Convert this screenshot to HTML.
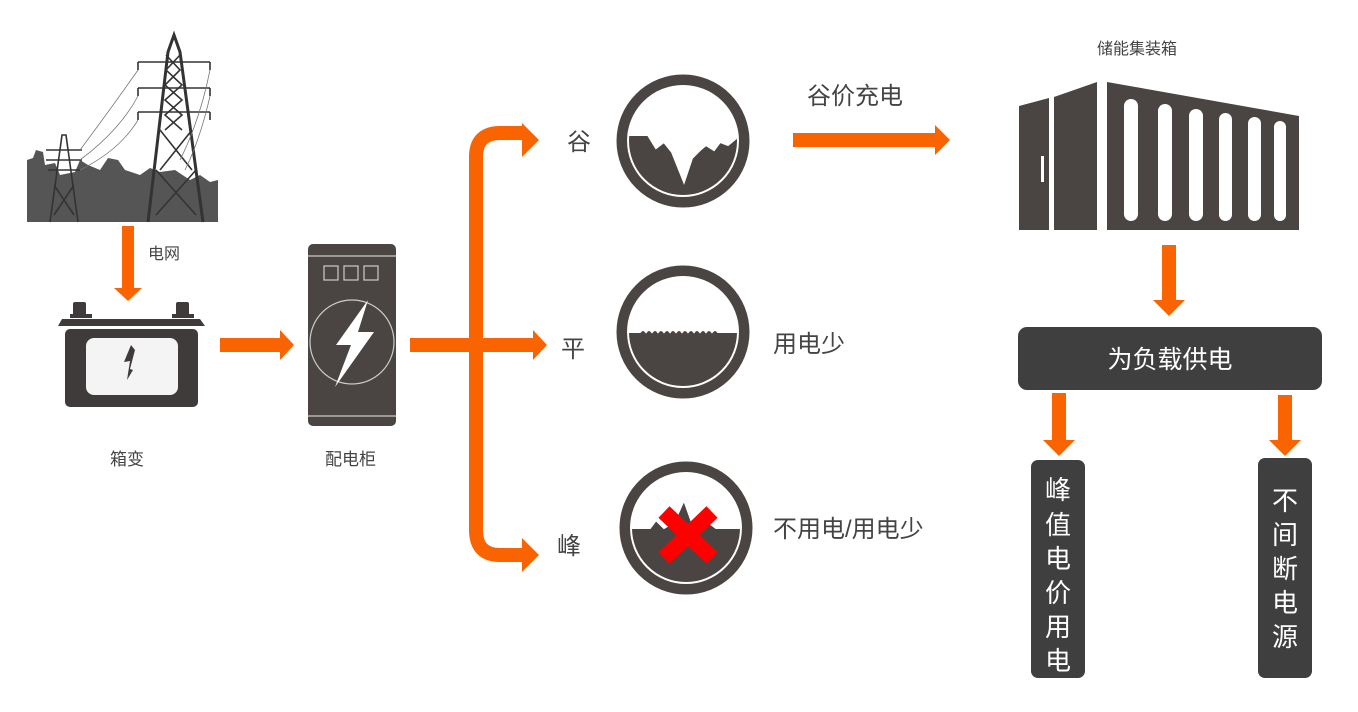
<!DOCTYPE html>
<html><head><meta charset="utf-8"><style>
html,body{margin:0;padding:0;background:#fff;}
svg{display:block;}
text{font-family:"Liberation Sans","Noto Sans CJK SC",sans-serif;}
</style></head><body>
<svg width="1358" height="712" viewBox="0 0 1358 712" xmlns="http://www.w3.org/2000/svg">
<defs>
<clipPath id="c1"><circle cx="683" cy="141" r="56"/></clipPath>
<clipPath id="c2"><circle cx="683" cy="332" r="56"/></clipPath>
<clipPath id="c3"><circle cx="686" cy="528" r="56"/></clipPath>
</defs>
<!-- tower scene -->
<g>
<path d="M27 222 L27 160 L33 158 L36 150 L43 152 L45 165 L55 163 L60 175 L75 172 L80 160 L88 165 L100 170 L108 158 L118 160 L125 170 L140 175 L150 168 L160 172 L175 170 L190 180 L200 175 L210 182 L218 180 L218 222 Z" fill="#555"/>
<g stroke="#333" fill="none" stroke-width="3">
<path d="M148 222 L168 52 L174 35 L180 52 L203 222"/>
</g>
<g stroke="#333" fill="none" stroke-width="1.6">
<path d="M138 62 L210 62 M138 88 L210 88 M138 112 L210 112"/>
<path d="M138 62 V70 M210 62 V70 M138 88 V96 M210 88 V96 M138 112 V120 M210 112 V120"/>
<path d="M156 215 L196 170 M196 215 L156 170 M160 170 L192 130 M192 170 L160 130"/>
<path d="M165 130 L182 115 L165 100 L182 85 L166 70 L180 55 M182 130 L165 115 L182 100 L165 85 L180 70 L166 55"/>
<path d="M50 222 L62 135 L66 135 L78 222"/>
<path d="M46 150 L82 150 M46 160 L82 160 M48 170 L80 170"/>
<path d="M54 215 L74 185 M74 215 L54 185"/>
</g>
<g stroke="#777" fill="none" stroke-width="0.8">
<path d="M80 150 Q110 110 138 70"/><path d="M80 160 Q120 130 138 96"/><path d="M80 170 Q120 150 138 120"/>
<path d="M210 70 Q200 120 180 160"/><path d="M210 96 Q200 140 185 170"/>
</g>
</g>
<!-- arrow down from grid -->
<path d="M122 226 H134 V288 H142 L128 301 L114 288 H122 Z" fill="#f96300"/>
<text x="148" y="259" font-size="16" fill="#444">电网</text>
<!-- battery -->
<g fill="#3f3b3a">
<rect x="73" y="302" width="13" height="14" rx="2"/><rect x="176" y="302" width="13" height="14" rx="2"/>
<rect x="70" y="314" width="22" height="4"/><rect x="172" y="314" width="22" height="4"/>
<path d="M62 319 H200 L205 326 H58 Z"/>
<rect x="65" y="329" width="133" height="78" rx="5"/>
</g>
<rect x="86" y="338" width="92" height="57" rx="8" fill="#f4f4f4"/>
<path d="M131 345 L124 362 L130 361 L127 380 L133 370 L130 369 L135 350 Z" fill="#3f3b3a"/>
<text x="110" y="465" font-size="17" fill="#444">箱变</text>
<!-- arrow -->
<path d="M220 338 H280 V330 L294 345 L280 360 V352 H220 Z" fill="#f96300"/>
<!-- cabinet -->
<rect x="308" y="244" width="88" height="182" rx="5" fill="#4a4543"/>
<g stroke="#ccc" fill="none" stroke-width="1.2">
<path d="M308 256 H396 M308 416 H396"/>
<rect x="324" y="266" width="14" height="14"/><rect x="344" y="266" width="14" height="14"/><rect x="364" y="266" width="14" height="14"/>
<circle cx="352" cy="342" r="42"/>
</g>
<path d="M368 300 L336 345 L351 345 L335 387 L374 332 L358 332 Z" fill="#fff"/>
<text x="325" y="465" font-size="17" fill="#444">配电柜</text>
<!-- branching arrows -->
<path d="M410 338 H533 V330 L547 345 L533 360 V352 H410 Z" fill="#f96300"/>
<path d="M524 133 H500 Q476 133 476 157 V530 Q476 555 500 555 H524" fill="none" stroke="#f96300" stroke-width="14"/>
<path d="M522 123 L539 140 L522 157 Z" fill="#f96300"/>
<path d="M522 538 L539 555 L522 572 Z" fill="#f96300"/>
<text x="567" y="150" font-size="24" fill="#444">谷</text>
<text x="561" y="357" font-size="24" fill="#444">平</text>
<text x="557" y="554" font-size="24" fill="#444">峰</text>
<!-- circles -->
<g>
<circle cx="683" cy="141" r="62" fill="#fff" stroke="#4a4543" stroke-width="9"/>
<g clip-path="url(#c1)"><path d="M620 135 H648 L656 148 L664 142 L672 152 L684 182 L692 158 L700 150 L706 145 L714 150 L720 142 L728 145 L740 135 V210 H620 Z" fill="#4a4543" stroke="#fff" stroke-width="2"/></g>
<circle cx="683" cy="141" r="55" fill="none" stroke="#fff" stroke-width="2"/>
<circle cx="683" cy="141" r="57" fill="none" stroke="#4a4543" stroke-width="2"/>
<circle cx="683" cy="332" r="62" fill="#fff" stroke="#4a4543" stroke-width="9"/>
<g clip-path="url(#c2)"><path d="M620 332 H640 q3 -4 6 0 q3 -4 6 0 q3 -4 6 0 q3 -4 6 0 q3 -4 6 0 q3 -4 6 0 q3 -4 6 0 q3 -4 6 0 q3 -4 6 0 q3 -4 6 0 q3 -4 6 0 q3 -4 6 0 q3 -4 6 0 H746 V400 H620 Z" fill="#4a4543" stroke="#fff" stroke-width="2"/></g>
<circle cx="683" cy="332" r="55" fill="none" stroke="#fff" stroke-width="2"/>
<circle cx="683" cy="332" r="57" fill="none" stroke="#4a4543" stroke-width="2"/>
<circle cx="686" cy="528" r="62" fill="#fff" stroke="#4a4543" stroke-width="9"/>
<g clip-path="url(#c3)"><path d="M620 528 H650 L656 520 L664 528 L674 522 L684 500 L694 528 L708 522 L716 528 H750 V600 H620 Z" fill="#4a4543" stroke="#fff" stroke-width="2"/></g>
<circle cx="686" cy="528" r="55" fill="none" stroke="#fff" stroke-width="2"/>
<circle cx="686" cy="528" r="57" fill="none" stroke="#4a4543" stroke-width="2"/>
<path d="M664 512 L712 558 M712 512 L664 558" stroke="#f00" stroke-width="16"/>
</g>
<text x="807" y="104" font-size="24" fill="#444">谷价充电</text>
<path d="M793 133 H935 V125 L950 140 L935 155 V147 H793 Z" fill="#f96300"/>
<text x="773" y="352" font-size="24" fill="#444">用电少</text>
<text x="773" y="537" font-size="24" fill="#444">不用电/用电少</text>
<!-- container -->
<text x="1097" y="54" font-size="16" fill="#444">储能集装箱</text>
<g fill="#4a4543">
<path d="M1019 106 L1049 98 V230 H1019 Z"/>
<path d="M1054 97 L1097 82 V230 H1054 Z"/>
<path d="M1107 82 L1299 116 V230 H1107 Z"/>
</g>
<rect x="1041" y="156" width="3" height="26" fill="#fff"/>
<g fill="#fff">
<rect x="1124" y="99" width="14" height="122" rx="7"/>
<rect x="1158" y="104" width="14" height="117" rx="7"/>
<rect x="1189" y="109" width="14" height="112" rx="7"/>
<rect x="1219" y="113" width="13" height="108" rx="6.5"/>
<rect x="1248" y="117" width="13" height="104" rx="6.5"/>
<rect x="1274" y="121" width="12" height="100" rx="6"/>
</g>
<path d="M1162 245 H1176 V300 H1185 L1169 316 L1153 300 H1162 Z" fill="#f96300"/>
<rect x="1018" y="327" width="304" height="63" rx="9" fill="#3f3f3f"/>
<text x="1170" y="368" font-size="25" fill="#fff" text-anchor="middle">为负载供电</text>
<path d="M1052 393 H1066 V440 H1075 L1059 456 L1043 440 H1052 Z" fill="#f96300"/>
<path d="M1278 395 H1292 V440 H1301 L1285 456 L1269 440 H1278 Z" fill="#f96300"/>
<rect x="1031" y="460" width="54" height="218" rx="7" fill="#3f3f3f"/>
<rect x="1258" y="458" width="54" height="220" rx="7" fill="#3f3f3f"/>
<g font-size="26" fill="#fff" text-anchor="middle">
<text x="1058" y="499">峰</text><text x="1058" y="534">值</text><text x="1058" y="568">电</text><text x="1058" y="602">价</text><text x="1058" y="636">用</text><text x="1058" y="670">电</text>
<text x="1285" y="510">不</text><text x="1285" y="544">间</text><text x="1285" y="578">断</text><text x="1285" y="612">电</text><text x="1285" y="646">源</text>
</g>
</svg>
</body></html>
